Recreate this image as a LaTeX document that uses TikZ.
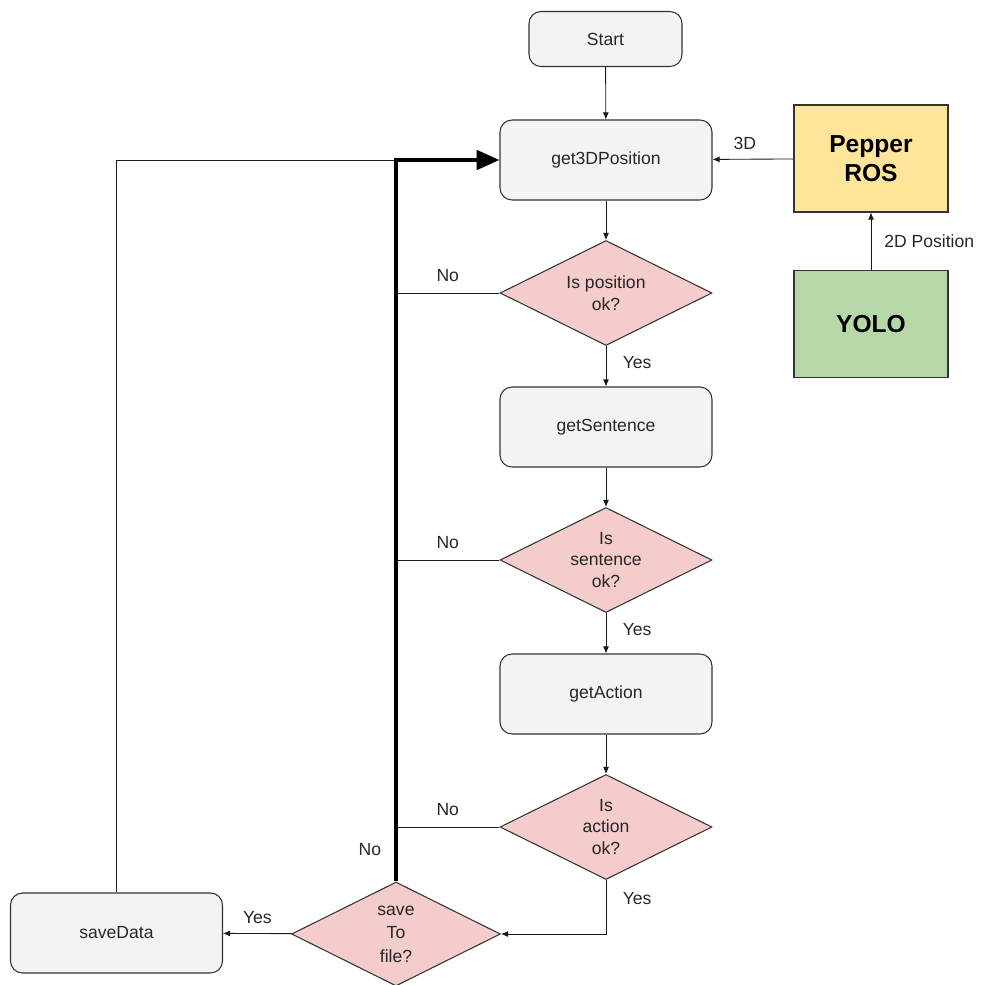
\documentclass[tikz,border=0pt]{standalone}
\usepackage{fontspec}
\setmainfont{Liberation Sans}
\usepackage{xcolor}
\usetikzlibrary{shapes.geometric,arrows.meta}

\definecolor{boxgray}{HTML}{F3F3F3}
\definecolor{testpink}{HTML}{F4CCCC}
\definecolor{rosyellow}{HTML}{FFE599}
\definecolor{yologreen}{HTML}{B6D7A8}
\definecolor{edgegray}{HTML}{333333}

\begin{document}
\begin{tikzpicture}[
	x = 0.02cm, y = -0.02cm,
	every node/.style = {font = \fontsize{10}{12.2}\selectfont, text = black!85},
	proc/.style = {draw = edgegray, fill = boxgray, rounded corners = 0.24cm,
		minimum width = 4.24cm, minimum height = 1.6cm, line width = 0.6pt},
	test/.style = {draw = edgegray, fill = testpink, diamond, aspect = 2,
		inner sep = 0pt, align = center,
		minimum width = 4.24cm, minimum height = 2.1cm, line width = 0.6pt},
	ext/.style = {draw = edgegray, rectangle, line width = 0.6pt, align = center,
		minimum width = 3.08cm, minimum height = 2.14cm,
		font = \fontsize{14}{16.5}\selectfont\bfseries, text = black},
	arr/.style = {draw = black!90, line width = 0.5pt, -{Latex[length = 4pt, width = 3.4pt]}},
	link/.style = {draw = black!90, line width = 0.5pt},
	bus/.style = {draw = black, line width = 2.2pt, -{Triangle[length = 13pt, width = 11pt]}}
]
\useasboundingbox (0,0) rectangle (984,985);

% main column
\node[proc, minimum width = 3.06cm, minimum height = 1.1cm] (start) at (605.5,39) {Start};
\node[proc] (get3d) at (606,160) {get3DPosition};
\node[test] (posok) at (606,293) {Is position\\ok?};
\node[proc] (sent) at (606,427) {getSentence};
\node[test] (sentok) at (606,560) {Is\\sentence\\ok?};
\node[proc] (action) at (606,694) {getAction};
\node[test] (actok) at (606,827) {Is\\action\\ok?};
\node[test, minimum width = 4.18cm, minimum height = 2.08cm,
	font = \fontsize{10}{13.4}\selectfont] (save) at (396,934) {save\\To\\file?};
\node[proc] (savedata) at (116.5,933) {saveData};

% perception side
\node[ext, fill = rosyellow] (ros) at (871,158.5) {Pepper\\ROS};
\node[ext, fill = yologreen] (yolo) at (871,324) {YOLO};

\coordinate (join) at (396,160);

\draw[arr] (start) -- (get3d);
\draw[arr] (get3d) -- (posok);
\draw[arr] (posok) -- node[right, xshift = 6pt, pos = 0.4] {Yes} (sent);
\draw[arr] (sent) -- (sentok);
\draw[arr] (sentok) -- node[right, xshift = 6pt, pos = 0.4] {Yes} (action);
\draw[arr] (action) -- (actok);
\draw[arr] (actok) |- node[right, xshift = 6pt, pos = 0.17] {Yes} (save);
\draw[arr] (save) -- node[above, yshift = 2pt] {Yes} (savedata);

% back to the start of the loop
\draw[link] (posok.west) -- node[above, yshift = 3pt] {No} (posok.west -| join);
\draw[link] (sentok.west) -- node[above, yshift = 3pt] {No} (sentok.west -| join);
\draw[link] (actok.west) -- node[above, yshift = 3pt] {No} (actok.west -| join);
\draw[link] (savedata.north) |- (join);
\draw[bus] (save.north) |- node[left, pos = 0.022, xshift = -4pt] {No} (get3d.west);

\draw[arr] (ros) -- node[above, yshift = 2pt, pos = 0.6] {3D} (get3d);
\draw[arr] (yolo) -- node[right, xshift = 4pt] {2D Position} (ros);
\end{tikzpicture}
\end{document}
